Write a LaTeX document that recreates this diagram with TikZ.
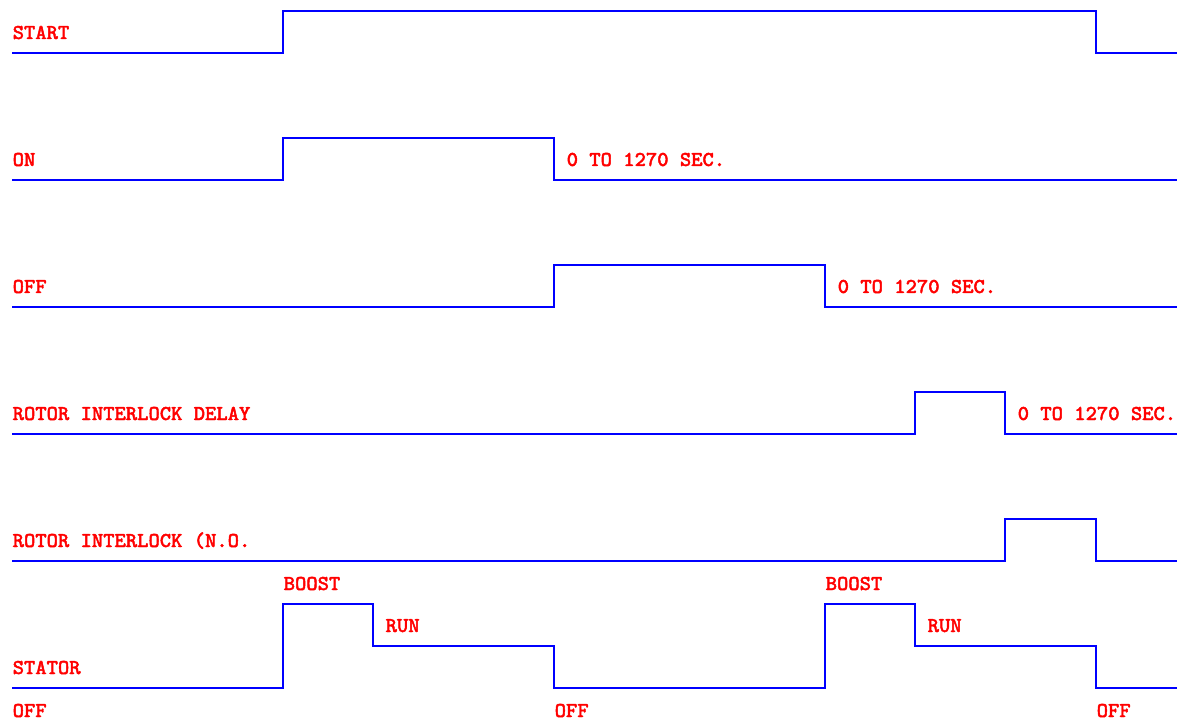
\documentclass[tikz,border=0pt]{standalone}
\usepackage{fontspec}
\setmonofont{Latin Modern Mono}[FakeStretch=1.01, FakeBold=2.2]
\usetikzlibrary{positioning}
\definecolor{traceBlue}{HTML}{0000FF}
\definecolor{labelRed}{HTML}{FF0000}

\begin{document}
\begin{tikzpicture}[x=0.01cm, y=-0.01cm,
  trace/.style={draw=traceBlue, line width=0.35pt},
  tag/.style={text=labelRed, font=\ttfamily\fontsize{6}{7}\selectfont, inner sep=0pt, anchor=base west},
]
  \useasboundingbox (0,0) rectangle (1177,719);

  % signal traces
  \draw[trace] (12,53) -- (283,53) -- (283,11) -- (1096,11) -- (1096,53) -- (1177,53);
  \draw[trace] (12,180) -- (283,180) -- (283,138) -- (554,138) -- (554,180) -- (1177,180);
  \draw[trace] (12,307) -- (554,307) -- (554,265) -- (825,265) -- (825,307) -- (1177,307);
  \draw[trace] (12,434) -- (915,434) -- (915,392) -- (1005,392) -- (1005,434) -- (1177,434);
  \draw[trace] (12,561) -- (1005,561) -- (1005,519) -- (1096,519) -- (1096,561) -- (1177,561);
  \draw[trace] (12,688) -- (283,688) -- (283,604) -- (373,604) -- (373,646) -- (554,646)
    -- (554,688) -- (825,688) -- (825,604) -- (915,604) -- (915,646) -- (1096,646)
    -- (1096,688) -- (1177,688);

  % row names
  \node[tag] (start) at (12,39) {START};
  \node[tag] (on) at (12,166) {ON};
  \node[tag] (off) at (12,293) {OFF};
  \node[tag] (delay) at (12,420) {ROTOR INTERLOCK DELAY};
  \node[tag] (interlock) at (12,547) {ROTOR INTERLOCK (N.O.};
  \node[tag] (stator) at (12,674) {STATOR};

  % timer ranges
  \node[tag] (onTime) at (566,166) {0 TO 1270 SEC.};
  \node[tag] (offTime) at (837,293) {0 TO 1270 SEC.};
  \node[tag] (delayTime) at (1017,420) {0 TO 1270 SEC.};

  % stator states
  \node[tag] (boostA) at (283,590) {BOOST};
  \node[tag] (runA) at (385,632) {RUN};
  \node[tag] (boostB) at (825,590) {BOOST};
  \node[tag] (runB) at (927,632) {RUN};
  \node[tag] (offA) at (12,717) {OFF};
  \node[tag] (offB) at (554,717) {OFF};
  \node[tag] (offC) at (1096,717) {OFF};
\end{tikzpicture}
\end{document}
